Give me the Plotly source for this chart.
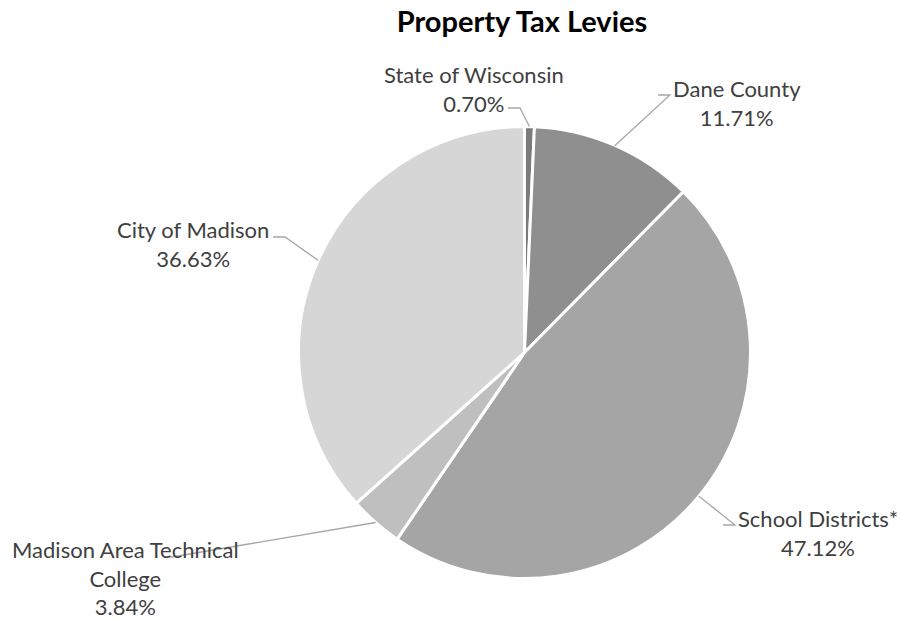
import math
import plotly.graph_objects as go

# ---- data ----
categories = ["State of Wisconsin", "Dane County", "School Districts*",
              "Madison Area Technical<br>College", "City of Madison"]
values = [0.70, 11.71, 47.12, 3.84, 36.63]
pct_labels = ["0.70%", "11.71%", "47.12%", "3.84%", "36.63%"]

# ---- styling / layout ----
W, H = 900, 621
colors = ["#7b7b7b", "#8f8f8f", "#a5a5a5", "#bfbfbf", "#d6d6d6"]
CX, CY, R = 524.5, 352.5, 226.0   # pie centre / radius in px
text_color = "#404040"
line_color = "#a6a6a6"
FONT = "Lato"

# label block centres (px) and leader-line elbow/end points (px)
label_pos = [(474, 89), (737, 103.5), (818, 533), (125, 578), (193, 244.5)]
elbows = [((520, 108), (508, 108)),
          ((670, 95), (658, 95)),
          ((735, 525), (723, 525)),
          ((172, 557), (165, 557)),
          ((285, 237), (273, 237))]

def px(x):
    return x / W

def py(y):
    return 1 - y / H

fig = go.Figure()
fig.add_trace(go.Pie(
    labels=categories, values=values, sort=False, direction="clockwise",
    rotation=0, marker=dict(colors=colors, line=dict(color="white", width=3)),
    textinfo="none", hoverinfo="skip", showlegend=False,
    domain=dict(x=[px(CX - R), px(CX + R)], y=[py(CY + R), py(CY - R)]),
))

total = sum(values)
cum = 0.0
shapes = []
annotations = []
for i, v in enumerate(values):
    mid = (cum + v / 2) / total * 2 * math.pi
    cum += v
    sx = CX + R * math.sin(mid)
    sy = CY - R * math.cos(mid)
    (ex, ey), (hx, hy) = elbows[i]
    path = f"M {px(sx)},{py(sy)} L {px(ex)},{py(ey)} L {px(hx)},{py(hy)}"
    shapes.append(dict(type="path", path=path, xref="paper", yref="paper",
                       line=dict(color=line_color, width=1.3)))
    lx, ly = label_pos[i]
    annotations.append(dict(
        text=f"{categories[i]}<br>{pct_labels[i]}", x=px(lx), y=py(ly),
        xref="paper", yref="paper", xanchor="center", yanchor="middle",
        align="center", showarrow=False,
        font=dict(family=FONT, size=22, color=text_color)))

fig.update_layout(
    width=W, height=H, margin=dict(l=0, r=0, t=0, b=0),
    paper_bgcolor="white", plot_bgcolor="white",
    title=dict(text="<b>Property Tax Levies</b>", x=px(522), y=py(22),
               xanchor="center", yanchor="middle",
               font=dict(family=FONT, size=29, color="#000000")),
    shapes=shapes, annotations=annotations,
)
fig.write_html("out.html")
